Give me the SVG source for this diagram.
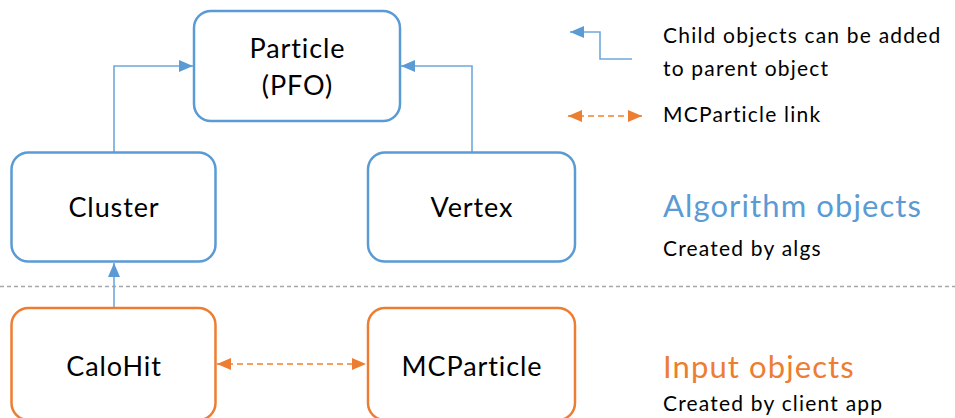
<svg xmlns="http://www.w3.org/2000/svg" width="955" height="418" viewBox="0 0 955 418">
  <style>
    .box-alg { fill: #ffffff; stroke: #5B9BD5; stroke-width: 2.5; }
    .box-in { fill: #ffffff; stroke: #ED7D31; stroke-width: 2.5; }
    .label { font-family: Lato, "Open Sans", sans-serif; font-size: 27px; letter-spacing: 0.9px; fill: #000000; text-anchor: middle; }
    .note { font-family: Lato, "Open Sans", sans-serif; font-size: 21px; letter-spacing: 1.2px; fill: #000000; }
    .head { font-family: Lato, "Open Sans", sans-serif; font-size: 31px; letter-spacing: 1.1px; }
    .child { fill: none; stroke: #6FA8DC; stroke-width: 1.6; }
    .mclink { fill: none; stroke: #F4A060; stroke-width: 2; stroke-dasharray: 6 4; }
    .sep { fill: none; stroke: #A6A6A6; stroke-width: 1.5; stroke-dasharray: 4 3; }
  </style>
  <defs>
    <marker id="arrow-blue" viewBox="0 0 14 12" refX="14" refY="6" markerWidth="14" markerHeight="12" markerUnits="userSpaceOnUse" orient="auto">
      <path d="M0,0 L14,6 L0,12 Z" fill="#5B9BD5"/>
    </marker>
    <marker id="arrow-orange" viewBox="0 0 14 12" refX="14" refY="6" markerWidth="14" markerHeight="12" markerUnits="userSpaceOnUse" orient="auto-start-reverse">
      <path d="M0,0 L14,6 L0,12 Z" fill="#ED7D31"/>
    </marker>
  </defs>

  <!-- layer separator -->
  <line class="sep" x1="0" y1="286.5" x2="955" y2="286.5"/>

  <!-- connectors -->
  <g id="connectors">
    <polyline class="child" points="114,152 114,66 193,66" marker-end="url(#arrow-blue)"/>
    <polyline class="child" points="472,152 472,66 401,66" marker-end="url(#arrow-blue)"/>
    <line class="child" x1="114" y1="308" x2="114" y2="263" marker-end="url(#arrow-blue)"/>
    <line class="mclink" x1="217" y1="364" x2="366" y2="364" marker-start="url(#arrow-orange)" marker-end="url(#arrow-orange)"/>
  </g>

  <!-- nodes -->
  <g id="particle">
    <rect class="box-alg" x="194" y="11" width="206" height="110" rx="17"/>
    <text class="label" x="297.5" y="58">Particle</text>
    <text class="label" x="297.5" y="95">(PFO)</text>
  </g>
  <g id="cluster">
    <rect class="box-alg" x="11.5" y="152.5" width="204" height="109" rx="17"/>
    <text class="label" x="114" y="217">Cluster</text>
  </g>
  <g id="vertex">
    <rect class="box-alg" x="368" y="152.5" width="207" height="109" rx="17"/>
    <text class="label" x="472" y="217">Vertex</text>
  </g>
  <g id="calohit">
    <rect class="box-in" x="11.5" y="308" width="204" height="112" rx="17"/>
    <text class="label" x="114" y="376">CaloHit</text>
  </g>
  <g id="mcparticle">
    <rect class="box-in" x="368" y="308" width="207" height="112" rx="17"/>
    <text class="label" x="472" y="376">MCParticle</text>
  </g>

  <!-- legend -->
  <g id="legend">
    <polyline class="child" points="632,59 600,59 600,32 570,32" marker-end="url(#arrow-blue)"/>
    <line class="mclink" x1="568" y1="116" x2="642" y2="116" marker-start="url(#arrow-orange)" marker-end="url(#arrow-orange)"/>
    <text class="note" x="663" y="43">Child objects can be added</text>
    <text class="note" x="663" y="76">to parent object</text>
    <text class="note" x="663" y="122">MCParticle link</text>
  </g>

  <!-- layer captions -->
  <g id="captions">
    <text class="head" x="663" y="217" fill="#5B9BD5">Algorithm objects</text>
    <text class="note" x="663" y="256">Created by algs</text>
    <text class="head" x="663" y="378" fill="#ED7D31">Input objects</text>
    <text class="note" x="663" y="411">Created by client app</text>
  </g>
</svg>
